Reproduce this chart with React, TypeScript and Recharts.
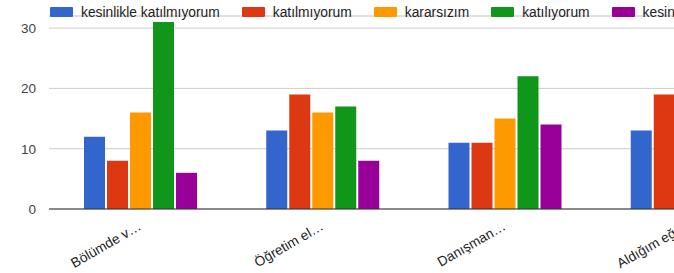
import React from 'react';
import { BarChart, Bar, XAxis, YAxis, CartesianGrid, Legend } from 'recharts';

const categories = ['Bölümde v…', 'Öğretim el…', 'Danışman…', 'Aldığım eğ…'];
const seriesNames = [
  'kesinlikle katılmıyorum',
  'katılmıyorum',
  'kararsızım',
  'katılıyorum',
  'kesinlikle katılıyorum',
];
const kesinlikleKatilmiyorum = [12, 13, 11, 13];
const katilmiyorum = [8, 19, 11, 19];
const kararsizim = [16, 16, 15, null];
const katiliyorum = [31, 17, 22, null];
const kesinlikleKatiliyorum = [6, 8, 14, null];
const majorTicks = [0, 10, 20, 30];
const minorTicks = [5, 15, 25];
const colors = ['#3366cc', '#dc3912', '#ff9900', '#109618', '#990099'];

const seriesValues = [
  kesinlikleKatilmiyorum,
  katilmiyorum,
  kararsizim,
  katiliyorum,
  kesinlikleKatiliyorum,
];
const keys = ['s0', 's1', 's2', 's3', 's4'];

const data = categories.map((c, i) => {
  const row: any = { name: c };
  keys.forEach((k, j) => {
    row[k] = seriesValues[j][i];
  });
  return row;
});

const FONT = '"Liberation Sans", Arial, sans-serif';

const XTick = (props: any) => {
  const { x, y, payload } = props;
  return (
    <g transform={`translate(${x + 2},${y + 12}) rotate(-30)`}>
      <text textAnchor="end" fontSize={13.7} fill="#222" fontFamily={FONT}>
        {payload.value}
      </text>
    </g>
  );
};

const YTick = (props: any) => {
  const { x, y, payload } = props;
  return (
    <text x={x} y={y} dy={5} textAnchor="end" fontSize={13.5} fill="#444" fontFamily={FONT}>
      {payload.value}
    </text>
  );
};

const LegendContent = (props: any) => {
  const items = [...(props.payload || [])].sort(
    (a: any, b: any) => seriesNames.indexOf(a.value) - seriesNames.indexOf(b.value)
  );
  return (
    <div
      style={{
        display: 'flex',
        alignItems: 'center',
        height: 24,
        paddingLeft: 50,
        whiteSpace: 'nowrap',
        fontFamily: FONT,
        fontSize: 13.8,
        color: '#222',
      }}
    >
      {items.map((entry: any, i: number) => (
        <div key={i} style={{ display: 'flex', alignItems: 'center', marginRight: 22 }}>
          <span
            style={{
              display: 'inline-block',
              width: 23,
              height: 10,
              background: entry.color,
              borderRadius: 1,
              marginRight: 8,
            }}
          />
          <span>{entry.value}</span>
        </div>
      ))}
    </div>
  );
};

export default function App() {
  return (
    <div
      style={{
        position: 'absolute',
        left: 0,
        top: 0,
        width: 674,
        height: 273,
        overflow: 'hidden',
        background: '#fff',
      }}
    >
      <BarChart
        width={800}
        height={273}
        data={data}
        margin={{ top: 16, right: 22, bottom: 0, left: 0 }}
        barGap={2}
        barSize={21}
      >
        <CartesianGrid yAxisId="minor" vertical={false} stroke="#ebebeb" />
        <CartesianGrid yAxisId="major" vertical={false} stroke="#cccccc" />
        <XAxis
          dataKey="name"
          height={64}
          tickLine={false}
          axisLine={{ stroke: '#333', strokeWidth: 1 }}
          tick={<XTick />}
          interval={0}
        />
        <YAxis
          yAxisId="major"
          width={49}
          domain={[0, 32]}
          ticks={majorTicks}
          tickLine={false}
          axisLine={false}
          tickSize={6}
          tickMargin={7}
          tick={<YTick />}
        />
        <YAxis yAxisId="minor" hide domain={[0, 32]} ticks={minorTicks} />
        <Legend
          layout="horizontal"
          verticalAlign="middle"
          align="center"
          wrapperStyle={{ top: 0, left: 0, width: 800 }}
          content={<LegendContent />}
        />
        {keys.map((k, j) => (
          <Bar
            key={k}
            dataKey={k}
            name={seriesNames[j]}
            fill={colors[j]}
            yAxisId="major"
            isAnimationActive={false}
          />
        ))}
      </BarChart>
    </div>
  );
}
